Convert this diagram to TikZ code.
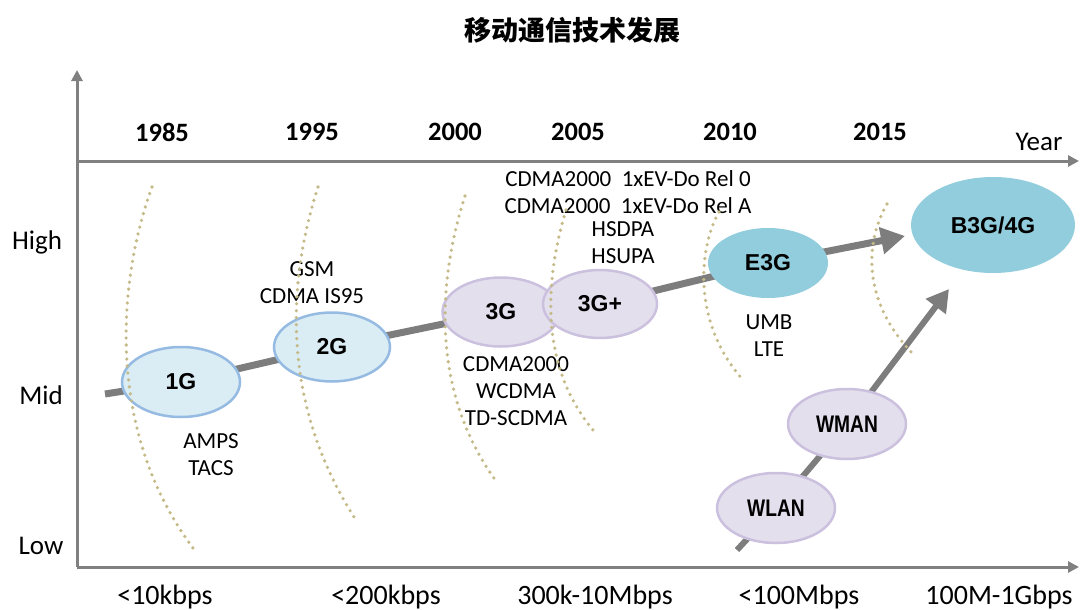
\documentclass[tikz,border=0pt]{standalone}
\usepackage{fontspec}
\setmainfont{Carlito}
\newfontfamily\cjk{Noto Sans CJK SC}
\newfontfamily\gfont{Liberation Sans}
\newfontfamily\condfont[FakeStretch=0.8]{Liberation Sans}
\usetikzlibrary{arrows.meta,backgrounds,shapes.geometric}
\definecolor{axisgray}{RGB}{128,128,128}
\definecolor{linegray}{RGB}{125,125,125}
\definecolor{lbfill}{RGB}{218,236,244}
\definecolor{lbdraw}{RGB}{150,187,226}
\definecolor{lvfill}{RGB}{228,223,237}
\definecolor{lvdraw}{RGB}{203,192,222}
\definecolor{tealfill}{RGB}{146,205,221}
\definecolor{dotcol}{RGB}{196,186,135}
\begin{document}
\begin{tikzpicture}[x=1pt,y=-1pt,
  axis/.style={draw=axisgray,line width=3pt},
  axtip/.style={-{Triangle[length=11pt,width=11pt]}},
  mainline/.style={draw=linegray,line width=7pt},
  bigtip/.style={-{Triangle[length=24pt,width=26pt]}},
  dotline/.style={draw=dotcol,line width=3.6pt,line cap=round,dash pattern=on 0pt off 7pt},
  year/.style={font=\bfseries\fontsize{26.5}{30}\selectfont},
  level/.style={font=\fontsize{27}{30}\selectfont},
  rate/.style={font=\fontsize{28}{30}\selectfont},
  small/.style={font=\fontsize{23}{26}\selectfont,align=center,inner sep=0pt},
  gen/.style={ellipse,inner sep=0pt,font=\gfont\bfseries\fontsize{23}{26}\selectfont},
  gblue/.style={gen,fill=lbfill,draw=lbdraw,line width=2.5pt},
  gviolet/.style={gen,fill=lvfill,draw=lvdraw,line width=2.5pt},
  gteal/.style={gen,fill=tealfill},
]
\useasboundingbox (0,0) rectangle (1081,610);
\node[font=\cjk\bfseries\fontsize{27}{30}\selectfont] (title) at (572,30) {移动通信技术发展};

% axes
\coordinate (o) at (77,567);
\coordinate (ytop) at (77,70);
\coordinate (xtl) at (77,161);
\coordinate (xtr) at (1079,161);
\coordinate (xbr) at (1079,567);
\draw[axis,axtip] (o) -- (ytop);
\draw[axis,axtip] (xtl) -- (xtr);
\draw[axis,axtip] (o) -- (xbr);

% years
\node[year] (y1985) at (162,132) {1985};
\node[year] (y1995) at (312,132) {1995};
\node[year] (y2000) at (455,132) {2000};
\node[year] (y2005) at (578,132) {2005};
\node[year] (y2010) at (730,132) {2010};
\node[year] (y2015) at (880,132) {2015};
\node[level] (yearlab) at (1039,142) {Year};

% levels
\node[level] (high) at (37,242) {High};
\node[level] (mid) at (41,395) {Mid};
\node[level] (low) at (41,546) {Low};

% rates
\node[rate] (r1) at (165,597) {<10kbps};
\node[rate] (r2) at (386,597) {<200kbps};
\node[rate] (r3) at (595,597) {300k-10Mbps};
\node[rate] (r4) at (799,597) {<100Mbps};
\node[rate] (r5) at (999,597) {100M-1Gbps};

% generations
\node[gblue,minimum width=118pt,minimum height=70pt] (g1) at (181,382) {1G};
\node[gblue,minimum width=116pt,minimum height=69pt] (g2) at (332,347) {2G};
\node[gviolet,minimum width=117pt,minimum height=69pt] (g3) at (501,312) {3G};
\node[gviolet,minimum width=114pt,minimum height=68pt] (g3p) at (600,304) {3G+};
\node[gteal,minimum width=120pt,minimum height=70pt] (e3g) at (768,263) {E3G};
\node[gteal,minimum width=164pt,minimum height=96pt] (b4g) at (993,225) {B3G/4G};
\node[gviolet,minimum width=118pt,minimum height=70pt,font=\condfont\bfseries\fontsize{24}{26}\selectfont] (wman) at (847,424) {WMAN};
\node[gviolet,minimum width=118pt,minimum height=70pt,font=\condfont\bfseries\fontsize{24}{26}\selectfont] (wlan) at (776,508) {WLAN};

% connectors
\coordinate (s1) at (105,394);
\coordinate (t1) at (905,236);
\coordinate (s2) at (737,550);
\coordinate (t2) at (949,289);
\begin{scope}[on background layer]
\draw[mainline] (s1) -- (g1.center) -- (g2.center) -- (g3.center) -- (g3p.center) -- (e3g.center);
\draw[mainline,bigtip] (e3g.center) -- (t1);
\draw[mainline,line width=6pt] (s2) -- (wlan.center) -- (wman.center);
\draw[mainline,line width=6pt,-{Triangle[length=22pt,width=24pt]}] (wman.center) -- (t2);
\end{scope}

% labels
\node[small] (l1g) at (211,455) {AMPS\\[1pt]TACS};
\node[small] (l2g) at (312,283) {GSM\\[1pt]CDMA IS95};
\node[small] (l3g) at (516,391) {CDMA2000\\[1pt]WCDMA\\[1pt]TD-SCDMA};
\node[small] (l3gp) at (628,192) {CDMA2000\ \ 1xEV-Do Rel 0\\[1pt]CDMA2000\ \ 1xEV-Do Rel A};
\node[small] (l3gp2) at (623,243) {HSDPA\\[1pt]HSUPA};
\node[small] (le3g) at (769,336) {UMB\\[1pt]LTE};

% dotted separators
\draw[dotline] (152,187) .. controls (118,280) and (105,430) .. (193,548);
\draw[dotline] (318,187) .. controls (288,280) and (280,400) .. (354,517);
\draw[dotline] (465,196) .. controls (438,280) and (430,390) .. (496,481);
\draw[dotline] (566,210) .. controls (548,270) and (535,360) .. (593,430);
\draw[dotline] (719,212) .. controls (700,245) and (690,320) .. (743,380);
\draw[dotline] (887,204) .. controls (866,240) and (860,300) .. (914,355);
\end{tikzpicture}
\end{document}
